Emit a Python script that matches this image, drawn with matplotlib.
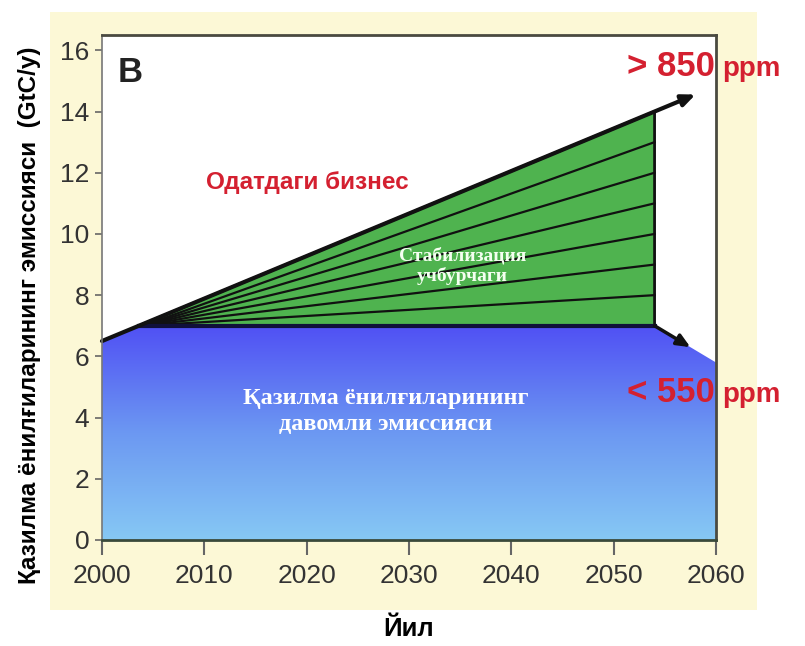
import numpy as np
import matplotlib
matplotlib.use("Agg")
import matplotlib.pyplot as plt
from matplotlib.patches import Polygon, Rectangle
from matplotlib.colors import LinearSegmentedColormap

# business-as-usual path (GtC/y)
bau_years = [2000, 2054]
bau_vals = [6.5, 14.0]
bau_arrow_end = 2058

# flat emissions path and decline after 2054
flat_level = 7.0
flat_start = 2003.6
flat_end = 2054
decline_end_year = 2060
decline_end_val = 5.8

# stabilisation wedge lines, end values at 2054
wedge_start = 2004
wedge_ends = [8, 9, 10, 11, 12, 13]

xticks = [2000, 2010, 2020, 2030, 2040, 2050, 2060]
yticks = [0, 2, 4, 6, 8, 10, 12, 14, 16]

SANS = ['Liberation Sans', 'DejaVu Sans']
SERIF = ['Liberation Serif', 'DejaVu Serif']
RED = '#d42030'

fig = plt.figure(figsize=(8.05, 6.46), dpi=100)
fig.patch.set_facecolor('white')
fig.patches.append(Rectangle((0.062, 0.056), 0.878, 0.926, transform=fig.transFigure,
                             facecolor='#fcf8d6', edgecolor='none', zorder=-1))

ax = fig.add_axes([0.1267, 0.1641, 0.7627, 0.7817])
ax.set_zorder(1)
ax.set_facecolor('white')

# blue gradient area (fossil emissions)
blue_poly = [(2000, 0), (2000, bau_vals[0]), (flat_start, flat_level), (flat_end, flat_level),
             (decline_end_year, decline_end_val), (decline_end_year, 0)]
cmap = LinearSegmentedColormap.from_list('bl', ['#86c8f4', '#6c98f2', '#5050f4'])
grad = np.linspace(0, 1, 256).reshape(-1, 1)
im = ax.imshow(grad, extent=[2000, 2060, 0, flat_level], origin='lower', aspect='auto',
               cmap=cmap, zorder=1)
clip = Polygon(blue_poly, closed=True, transform=ax.transData, facecolor='none', edgecolor='none')
ax.add_patch(clip)
im.set_clip_path(clip)
ax.set_xlim(2000, 2060)
ax.set_ylim(0, 16.5)

# green stabilisation triangle
tri = Polygon([(flat_start, flat_level), (bau_years[1], bau_vals[1]), (flat_end, flat_level)],
              closed=True, facecolor='#4fb34f', edgecolor='#111111', lw=2, zorder=2)
ax.add_patch(tri)
for v in wedge_ends:
    ax.plot([wedge_start, flat_end], [flat_level, v], color='#111111', lw=1.6, zorder=3)
ax.plot([flat_start, flat_end], [flat_level, flat_level], color='#10103a', lw=3, zorder=3)

# arrows
bau_slope = (bau_vals[1] - bau_vals[0]) / (bau_years[1] - bau_years[0])
ax.annotate('', xy=(bau_arrow_end, bau_vals[0] + bau_slope * (bau_arrow_end - bau_years[0])),
            xytext=(bau_years[0], bau_vals[0]),
            arrowprops=dict(arrowstyle='-|>,head_length=0.8,head_width=0.35', color='#111111',
                            lw=3, shrinkA=0, shrinkB=0), zorder=4)
dec_slope = (decline_end_val - flat_level) / (decline_end_year - flat_end)
ax.annotate('', xy=(2057.5, flat_level + dec_slope * 3.5), xytext=(flat_end, flat_level),
            arrowprops=dict(arrowstyle='-|>,head_length=0.8,head_width=0.35', color='#111111',
                            lw=2.5, shrinkA=0, shrinkB=0), zorder=4)

# texts
ax.text(2001.5, 14.97, 'B', fontsize=25, fontweight='bold', family=SANS, color='#222222',
        va='baseline', ha='left', zorder=5)
ax.text(2020.1, 11.67, 'Одатдаги бизнес', fontsize=17.5, fontweight='bold', family=SANS,
        color=RED, ha='center', va='center', zorder=5)
ax.text(2035.2, 8.95, 'Стабилизация\nучбурчаги', fontsize=14, fontweight='bold', family=SERIF,
        color='#f4fff0', ha='center', va='center', linespacing=1.2, zorder=5)
ax.text(2027.7, 4.2, 'Қазилма ёнилғиларининг\nдавомли эмиссияси', fontsize=17.5,
        fontweight='bold', family=SERIF, color='white', ha='center', va='center',
        linespacing=1.3, zorder=5)
ax.text(2059.9, 15.16, '> 850', fontsize=25, fontweight='bold', family=SANS, color=RED,
        ha='right', va='baseline', clip_on=False, zorder=5)
ax.text(2060.6, 15.16, 'ppm', fontsize=20, fontweight='bold', family=SANS, color=RED,
        ha='left', va='baseline', clip_on=False, zorder=5)
ax.text(2059.9, 4.5, '< 550', fontsize=25, fontweight='bold', family=SANS, color=RED,
        ha='right', va='baseline', clip_on=False, zorder=5)
ax.text(2060.6, 4.5, 'ppm', fontsize=20, fontweight='bold', family=SANS, color=RED,
        ha='left', va='baseline', clip_on=False, zorder=5)

# axes styling
ax.set_xticks(xticks)
ax.set_yticks(yticks)
ax.tick_params(axis='y', direction='out', length=5, width=1.2, color='#666666', pad=4,
               labelsize=19, labelcolor='#333333')
ax.tick_params(axis='x', direction='out', length=11, width=1.5, color='#666666', pad=6,
               labelsize=19, labelcolor='#333333')
for lab in ax.get_xticklabels() + ax.get_yticklabels():
    lab.set_family(SANS)
for side in ['top', 'right']:
    ax.spines[side].set_color('#4a4a40')
    ax.spines[side].set_linewidth(2)
ax.spines['left'].set_color('#777777')
ax.spines['left'].set_linewidth(1.2)
ax.spines['bottom'].set_color('#3a4a3a')
ax.spines['bottom'].set_linewidth(2)
for s in ax.spines.values():
    s.set_zorder(6)

ax.set_ylabel('Қазилма ёнилғиларининг эмиссияси  (GtC/y)', fontsize=17.5, fontweight='bold',
              family=SANS)
ax.yaxis.set_label_coords(-0.1, 0.445)
ax.set_xlabel('Йил', fontsize=18.5, fontweight='bold', family=SANS, labelpad=21)

fig.savefig('out.png', dpi=100)
